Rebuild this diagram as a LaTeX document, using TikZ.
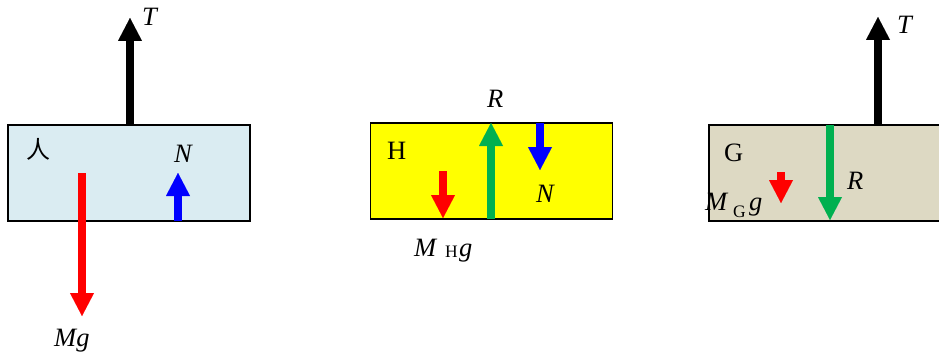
\documentclass[tikz,border=0pt]{standalone}
\usepackage{fontspec}
\setmainfont{Liberation Serif}
\newfontfamily\cjk{Noto Sans CJK SC}
\usetikzlibrary{arrows.meta}
\definecolor{boxblue}{HTML}{DAECF2}
\definecolor{boxyellow}{HTML}{FFFF00}
\definecolor{boxbeige}{HTML}{DDD9C3}
\definecolor{fgreen}{HTML}{00B050}
\definecolor{fblue}{HTML}{0000FF}
\definecolor{fred}{HTML}{FF0000}
\begin{document}
\begin{tikzpicture}[x=1pt,y=-1pt,
  bodybox/.style={draw=black,line width=1.4pt,minimum width=242pt,minimum height=96pt,inner sep=0pt},
  force/.style={line width=7.5pt,-{Triangle[width=24pt,length=23pt,line width=0.01pt]}},
  lbl/.style={inner sep=0pt,anchor=base west,font=\fontsize{26.5}{30}\selectfont\itshape},
  ulbl/.style={inner sep=0pt,anchor=base west,font=\fontsize{26.5}{30}\selectfont},
  sub/.style={inner sep=0pt,anchor=base west,font=\fontsize{17.5}{20}\selectfont}]
\useasboundingbox (0,0) rectangle (939,353);
% boxes
\node[bodybox,fill=boxblue] (man) at (129,173) {};
\node[bodybox,fill=boxyellow] (hbox) at (491.5,171) {};
\node[bodybox,fill=boxbeige] (gbox) at (830,173) {};
% box 1
\coordinate (t1s) at (130,125); \coordinate (t1e) at (130,18);
\coordinate (n1s) at (178,221); \coordinate (n1e) at (178,173);
\coordinate (m1s) at (82,173);  \coordinate (m1e) at (82,316);
\draw[force,black] (t1s) -- (t1e);
\draw[force,fblue] (n1s) -- (n1e);
\draw[force,fred] (m1s) -- (m1e);
\node[lbl] (lt1) at (142,26) {T};
\node[inner sep=0pt,font=\fontsize{24}{28}\selectfont\cjk] (lren) at (38,149) {人};
\node[lbl] (ln1) at (174,162) {N};
\node[lbl] (lmg) at (54,346) {Mg};
% box 2
\coordinate (r2s) at (491,219); \coordinate (r2e) at (491,123);
\coordinate (n2s) at (540,123); \coordinate (n2e) at (540,170);
\coordinate (m2s) at (443,171); \coordinate (m2e) at (443,218);
\draw[force,fgreen] (r2s) -- (r2e);
\draw[force,fblue] (n2s) -- (n2e);
\draw[force,fred] (m2s) -- (m2e);
\node[lbl] (lr2) at (487,107) {R};
\node[ulbl] (lh) at (387,159) {H};
\node[lbl] (ln2) at (536,202) {N};
\node[lbl] (lm2) at (414,256) {M};
\node[sub] (lm2s) at (445,257) {H};
\node[lbl] (lm2g) at (459,256) {g};
% box 3
\coordinate (t3s) at (878,125); \coordinate (t3e) at (878,17);
\coordinate (r3s) at (830,125); \coordinate (r3e) at (830,220);
\coordinate (m3s) at (781,172); \coordinate (m3e) at (781,203);
\draw[force,black] (t3s) -- (t3e);
\draw[force,fgreen] (r3s) -- (r3e);
\draw[force,fred] (m3s) -- (m3e);
\node[lbl] (lt3) at (897,34) {T};
\node[ulbl] (lg) at (724,161) {G};
\node[lbl] (lr3) at (847,189) {R};
\node[lbl] (lm3) at (705,210) {M};
\node[sub] (lm3s) at (733,217) {G};
\node[lbl] (lm3g) at (749,210) {g};
\end{tikzpicture}
\end{document}
